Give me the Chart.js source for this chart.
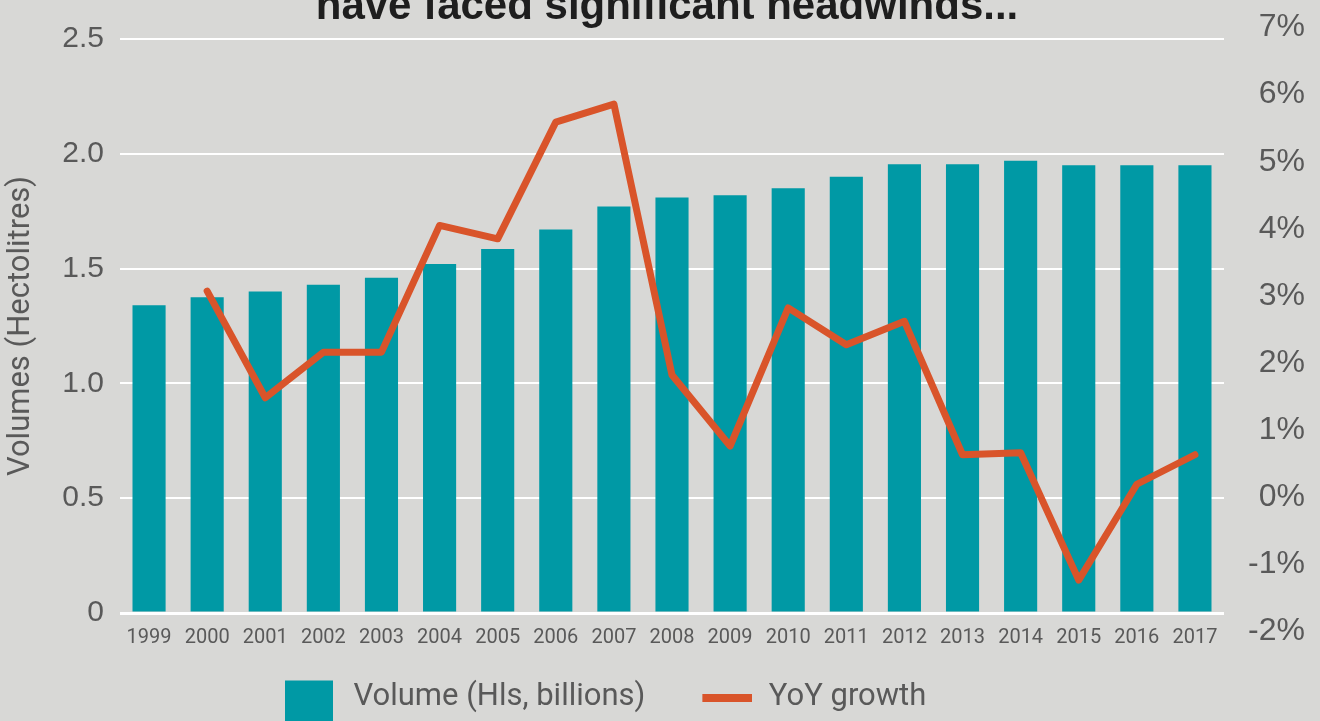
<!DOCTYPE html>
<html lang="en">
<head>
    <meta charset="UTF-8">
    <title>Volumes</title>
    <style>
        html, body { margin: 0; padding: 0; background: #d8d8d6; overflow: hidden; }
    </style>
</head>
<body>
    <canvas id="myChart" width="1320" height="721"></canvas>

    <script src="https://cdn.jsdelivr.net/npm/chart.js"></script>

    <script>
        const ctx = document.getElementById('myChart');

        // categorias e séries
        const years = ['1999', '2000', '2001', '2002', '2003', '2004', '2005', '2006', '2007', '2008',
                       '2009', '2010', '2011', '2012', '2013', '2014', '2015', '2016', '2017'];
        const volumes = [1.34, 1.375, 1.40, 1.43, 1.46, 1.52, 1.585, 1.67, 1.77, 1.81,
                         1.82, 1.85, 1.90, 1.955, 1.955, 1.97, 1.95, 1.95, 1.95];
        const yoyGrowth = [null, 3.07, 1.48, 2.16, 2.16, 4.05, 3.85, 5.59, 5.86, 1.82,
                           0.76, 2.82, 2.27, 2.62, 0.63, 0.66, -1.24, 0.19, 0.63];
        const growthTicks = [-2, -1, 0, 1, 2, 3, 4, 5, 6, 7];
        const volumeLabel = 'Volume (Hls, billions)';
        const growthLabel = 'YoY growth';
        const titleText = 'have faced significant headwinds...';

        const teal = '#0099a5';
        const orange = '#d9542a';
        const grey = '#595959';

        // amostras da legenda, desenhadas à direita da caixa de 72px
        const swatch = document.createElement('canvas');
        swatch.width = 62;
        swatch.height = 62;
        const sctx = swatch.getContext('2d');
        sctx.fillStyle = teal;
        sctx.fillRect(14, 14, 48, 48);

        const lineSwatch = document.createElement('canvas');
        lineSwatch.width = 70;
        lineSwatch.height = 8;
        const lctx = lineSwatch.getContext('2d');
        lctx.fillStyle = orange;
        lctx.fillRect(20, 0, 50, 8);

        // título cortado no topo, como no original
        const titlePlugin = {
            id: 'cutTitle',
            afterDraw(chart) {
                const c = chart.ctx;
                c.save();
                c.font = 'bold 42px "Liberation Sans"';
                c.fillStyle = '#1e1e1e';
                c.textAlign = 'center';
                c.textBaseline = 'alphabetic';
                c.fillText(titleText, 667, 19);
                c.restore();
            }
        };

        // a legenda do original não fica centrada: começa em x = 266
        const legendShift = {
            id: 'legendShift',
            afterLayout(chart) {
                const lg = chart.legend;
                const pad = lg.options.labels.padding;
                lg.right = 2 * 266 - (lg.left + pad) + lg.lineWidths[0];
            }
        };

        new Chart(ctx, {
            type: 'bar',
            data: {
                labels: years,
                datasets: [
                    {
                        type: 'line',
                        label: growthLabel,
                        data: yoyGrowth,
                        yAxisID: 'y1',
                        borderColor: orange,
                        borderWidth: 7,
                        borderJoinStyle: 'round',
                        borderCapStyle: 'round',
                        pointRadius: 0,
                        tension: 0,
                        fill: false
                    },
                    {
                        label: volumeLabel,
                        data: volumes,
                        yAxisID: 'y',
                        backgroundColor: teal,
                        categoryPercentage: 0.57,
                        barPercentage: 1
                    }
                ]
            },
            options: {
                responsive: false,
                animation: false,
                layout: { padding: { top: 39, left: 0, right: 15, bottom: -2 } },
                plugins: {
                    tooltip: { enabled: false },
                    legend: {
                        position: 'bottom',
                        labels: {
                            usePointStyle: true,
                            pointStyleWidth: 72,
                            padding: 36,
                            color: grey,
                            font: { family: 'Roboto', size: 31 },
                            generateLabels: () => [
                                { text: volumeLabel, pointStyle: swatch, fillStyle: teal, lineWidth: 0, fontColor: grey },
                                { text: growthLabel, pointStyle: lineSwatch, fillStyle: orange, lineWidth: 0, fontColor: grey }
                            ]
                        }
                    }
                },
                scales: {
                    x: {
                        grid: { display: false, drawTicks: false },
                        border: { display: false },
                        ticks: { color: grey, font: { family: 'Roboto', size: 20 }, padding: 13, maxRotation: 0, autoSkip: false },
                        afterFit: s => { s.height = 33; }
                    },
                    y: {
                        position: 'left',
                        min: 0,
                        max: 2.5,
                        grid: {
                            color: '#ffffff',
                            lineWidth: c => (c.tick && c.tick.value === 0 ? 3 : 2),
                            drawTicks: false
                        },
                        border: { display: false },
                        ticks: {
                            stepSize: 0.5,
                            color: grey,
                            padding: 16,
                            font: { family: 'Liberation Sans', size: 30 },
                            callback: v => (v === 0 ? '0' : v.toFixed(1))
                        },
                        title: {
                            display: true,
                            text: 'Volumes (Hectolitres)',
                            color: grey,
                            font: { family: 'Roboto', size: 31 },
                            padding: { top: 3, bottom: 0 }
                        },
                        afterFit: s => { s.width = 120; }
                    },
                    y1: {
                        position: 'right',
                        min: -1.73,
                        max: 6.83,
                        grid: { display: false, drawTicks: false },
                        border: { display: false },
                        ticks: {
                            color: grey,
                            padding: 15,
                            crossAlign: 'far',
                            autoSkip: false,
                            font: { family: 'Liberation Sans', size: 32 },
                            callback: v => v + '%'
                        },
                        afterBuildTicks: s => { s.ticks = growthTicks.map(v => ({ value: v })); },
                        afterFit: s => { s.width = 81; }
                    }
                }
            },
            plugins: [titlePlugin, legendShift]
        });
    </script>
</body>
</html>
